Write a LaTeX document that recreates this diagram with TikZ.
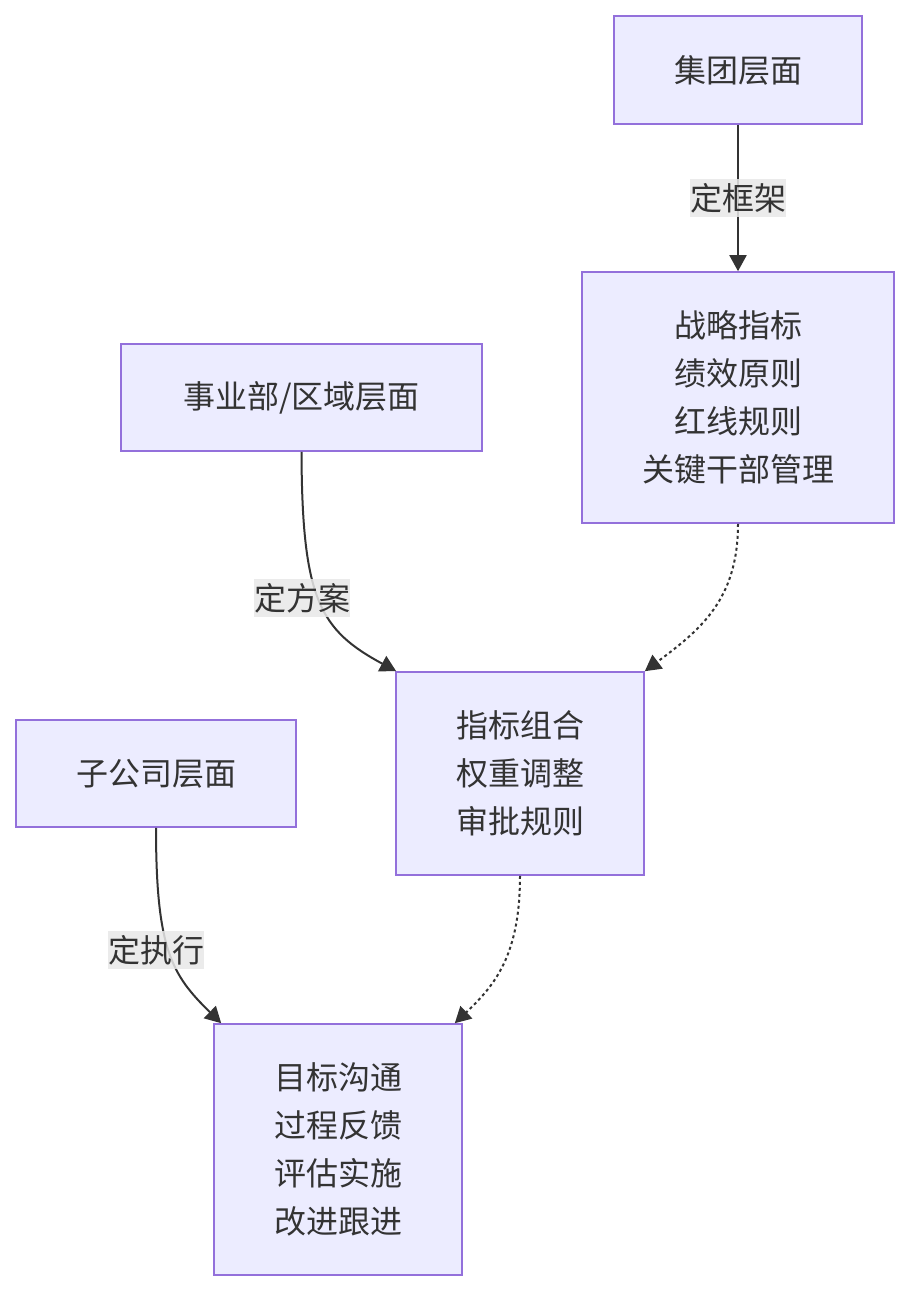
\documentclass[tikz,border=0pt]{standalone}
\usepackage{fontspec}
\setmainfont{Noto Sans CJK SC}
\usetikzlibrary{arrows.meta,calc}
\definecolor{nodefill}{HTML}{ECECFF}
\definecolor{nodeline}{HTML}{9370DB}
\definecolor{edgecol}{HTML}{333333}
\definecolor{lblbg}{HTML}{E8E8E8}
\begin{document}
\begin{tikzpicture}[x=1pt,y=-1pt,
  box/.style={draw=nodeline,fill=nodefill,line width=1.6pt,inner sep=0pt,
    align=center,text=edgecol,font=\fontsize{32}{48}\selectfont},
  lbl/.style={fill=lblbg,fill opacity=0.85,text opacity=1,text=edgecol,inner xsep=0pt,inner ysep=4pt,
    font=\fontsize{32}{38}\selectfont},
  edge/.style={draw=edgecol,line width=2pt,-{Triangle[length=16pt,width=17pt]}},
  dotedge/.style={edge,dash pattern=on 3pt off 3pt}]
\useasboundingbox (0,0) rectangle (910,1292);
\node[box,minimum width=248pt,minimum height=108pt] (jt) at (738,70) {集团层面};
\node[box,minimum width=312pt,minimum height=251pt] (zl) at (738,397.5) {战略指标\\绩效原则\\红线规则\\关键干部管理};
\node[box,minimum width=361pt,minimum height=107pt] (sy) at (301.5,397.5) {事业部/区域层面};
\node[box,minimum width=248pt,minimum height=203pt] (zb) at (520,773.5) {指标组合\\权重调整\\审批规则};
\node[box,minimum width=280pt,minimum height=107pt] (zg) at (156,773.5) {子公司层面};
\node[box,minimum width=248pt,minimum height=251pt] (mb) at (338,1149.5) {目标沟通\\过程反馈\\评估实施\\改进跟进};

\draw[edge] (jt.south) -- node[lbl] {定框架} (zl.north);
\draw[edge] (sy.south) .. controls (302,600) and (320,630) .. ($(zb.north west)+(1,0)$);
\node[lbl] (l2) at (302,598) {定方案};
\draw[dotedge] (zl.south) .. controls (738,600) and (700,630) .. ($(zb.north east)+(0,0)$);
\draw[edge] (zg.south) .. controls (156,950) and (172,975) .. ($(mb.north west)+(8,0)$);
\node[lbl] (l3) at (156,950) {定执行};
\draw[dotedge] (zb.south) .. controls (520,955) and (495,985) .. ($(mb.north east)+(-8,0)$);
\end{tikzpicture}
\end{document}
